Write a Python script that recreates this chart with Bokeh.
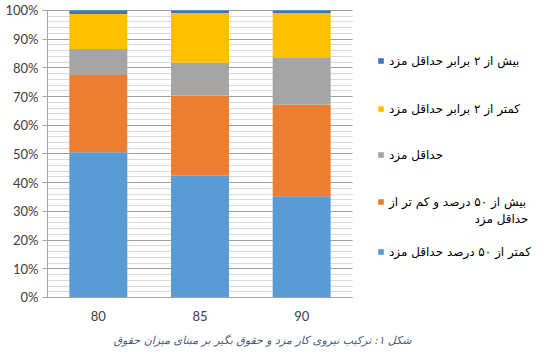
from bokeh.plotting import figure
from bokeh.models import (Legend, LegendItem, Label, NumeralTickFormatter, FixedTicker,
                          SingleIntervalTicker, Range1d, ColumnDataSource)
from bokeh.embed import file_html
from bokeh.resources import INLINE

years = ["80", "85", "90"]
below_half = [0.506, 0.424, 0.353]
half_to_min = [0.269, 0.280, 0.319]
minimum = [0.091, 0.114, 0.165]
under_double = [0.122, 0.173, 0.154]
over_double = [0.012, 0.009, 0.009]

series_keys = ["below_half", "half_to_min", "minimum", "under_double", "over_double"]
series_labels = [
    "کمتر از ۵۰ درصد حداقل مزد",
    "بیش از ۵۰ درصد و کم تر از",
    "حداقل مزد",
    "کمتر از ۲ برابر حداقل مزد",
    "بیش از ۲ برابر حداقل مزد",
]
wrap_second_line = "حداقل مزد"
colors = ["#5B9BD5", "#ED7D31", "#A5A5A5", "#FFC000", "#4472C4"]
caption = "شکل ۱: ترکیب نیروی کار مزد و حقوق بگیر بر مبنای میزان حقوق"

# category positions (one unit per category)
xpos = [i + 0.5 for i in range(len(years))]
source = ColumnDataSource(dict(x=xpos, below_half=below_half, half_to_min=half_to_min,
                               minimum=minimum, under_double=under_double,
                               over_double=over_double))

# frame covers the whole canvas right of the y axis; chart occupies x 0..3, y 0..1
p = figure(x_range=Range1d(0, 4.918), y_range=Range1d(-0.2021, 1.0348),
           width=547, height=355, output_backend="svg", toolbar_location=None,
           min_border_left=47, min_border_right=0, min_border_top=0,
           min_border_bottom=0)
p.outline_line_color = None

renderers = p.vbar_stack(series_keys, x="x", width=0.57, color=colors,
                         line_color=None, source=source)

# y axis
p.yaxis.ticker = SingleIntervalTicker(interval=0.1, num_minor_ticks=5)
p.yaxis.formatter = NumeralTickFormatter(format="0%")
p.yaxis.bounds = (0, 1)
p.yaxis.axis_line_color = "#A6A6A6"
p.yaxis.major_tick_line_color = "#A6A6A6"
p.yaxis.major_tick_out = 5
p.yaxis.major_tick_in = 0
p.yaxis.minor_tick_out = 0
p.yaxis.minor_tick_in = 0
p.yaxis.major_label_standoff = 4
p.yaxis.major_label_text_font = "Lato"
p.yaxis.major_label_text_font_size = "13px"
p.yaxis.major_label_text_color = "#404040"

# x axis at y = 0
p.xaxis.fixed_location = 0
p.xaxis.bounds = (0, len(years))
p.xaxis.ticker = FixedTicker(ticks=xpos)
p.xaxis.major_label_overrides = {x: y for x, y in zip(xpos, years)}
p.xaxis.axis_line_color = "#A6A6A6"
p.xaxis.major_tick_line_color = None
p.xaxis.minor_tick_line_color = None
p.xaxis.major_tick_out = 0
p.xaxis.major_label_standoff = 14
p.xaxis.major_label_text_font = "Lato"
p.xaxis.major_label_text_font_size = "13px"
p.xaxis.major_label_text_color = "#404040"

p.xgrid.grid_line_color = None
p.ygrid.grid_line_color = "#A0A0A0"
p.ygrid.minor_grid_line_color = "#D9D9D9"
p.ygrid.bounds = (0, 1)
p.ygrid.cross_bounds = (0, len(years))
p.ygrid.level = "underlay"

# legend entries, top to bottom as in the reference
legend_y = {4: 287.5, 3: 239.5, 2: 193.5, 1: 146.5, 0: 96.5}
for i in [4, 3, 2, 1, 0]:
    leg = Legend(items=[LegendItem(label=series_labels[i], renderers=[renderers[i]])],
                 location=(330, legend_y[i]), glyph_width=7, glyph_height=7,
                 label_text_font="DejaVu Sans", label_text_font_size="12px",
                 label_text_color="#000000", label_standoff=5, label_height=14,
                 padding=0, margin=0, spacing=0, border_line_color=None,
                 background_fill_alpha=0)
    p.add_layout(leg)

p.add_layout(Label(x=481, y=137, x_units="screen", y_units="screen",
                   text=wrap_second_line, text_align="right", text_baseline="middle",
                   text_font="DejaVu Sans", text_font_size="12px", text_color="#000000"))

p.add_layout(Label(x=215, y=15, x_units="screen", y_units="screen", text=caption,
                   text_align="center", text_baseline="middle", text_font="DejaVu Sans",
                   text_font_style="italic", text_font_size="11px", text_color="#4A5A7A"))

open("out.html", "w").write(file_html(p, INLINE))
